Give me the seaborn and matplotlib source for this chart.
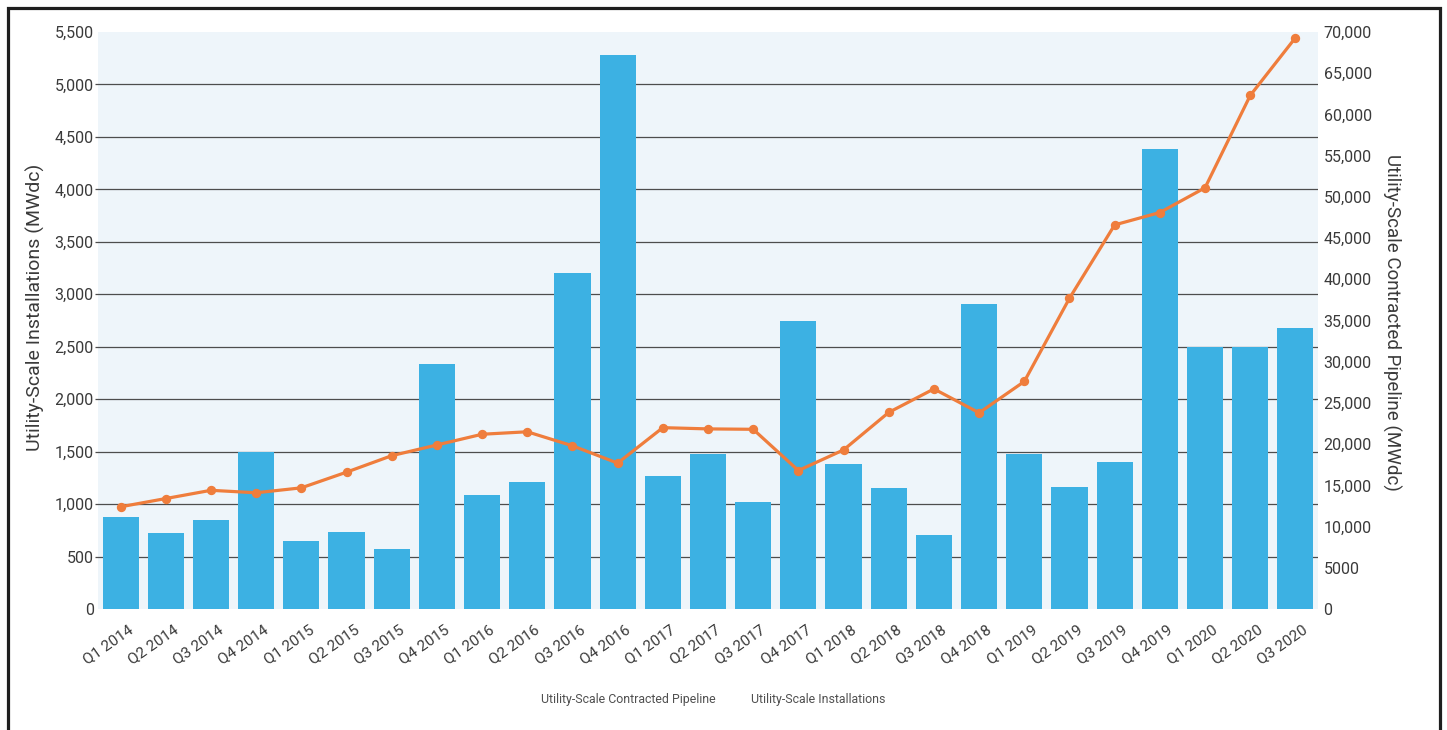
import matplotlib
matplotlib.use("Agg")
import matplotlib.pyplot as plt
from matplotlib.patches import Rectangle
from matplotlib.ticker import FuncFormatter, FixedLocator
from matplotlib.transforms import ScaledTranslation
import seaborn as sns

quarters = [
    "Q1 2014", "Q2 2014", "Q3 2014", "Q4 2014",
    "Q1 2015", "Q2 2015", "Q3 2015", "Q4 2015",
    "Q1 2016", "Q2 2016", "Q3 2016", "Q4 2016",
    "Q1 2017", "Q2 2017", "Q3 2017", "Q4 2017",
    "Q1 2018", "Q2 2018", "Q3 2018", "Q4 2018",
    "Q1 2019", "Q2 2019", "Q3 2019", "Q4 2019",
    "Q1 2020", "Q2 2020", "Q3 2020",
]
installations_mwdc = [
    880, 725, 845, 1495,
    650, 735, 575, 2340,
    1085, 1210, 3205, 5285,
    1270, 1475, 1020, 2750,
    1380, 1155, 710, 2910,
    1475, 1165, 1405, 4385,
    2500, 2500, 2680,
]
pipeline_mwdc = [
    12400, 13400, 14400, 14100,
    14700, 16600, 18600, 19900,
    21200, 21500, 19800, 17700,
    22000, 21850, 21800, 16800,
    19300, 23850, 26700, 23800,
    27600, 37700, 46600, 48100,
    51100, 62300, 69300,
]
left_ticks = list(range(0, 5501, 500))
grid_levels = list(range(500, 5001, 500))
right_ticks = list(range(0, 70001, 5000))

sns.set_theme(style="white")
plt.rcParams["font.family"] = ["Roboto", "DejaVu Sans"]

BAR_BLUE = "#3cb1e3"
LINE_ORANGE = "#ef7d3c"
PLOT_BG = "#eef5fa"
GRID = "#4d4d4d"
TEXT = "#3a3a3a"

fig = plt.figure(figsize=(14.47, 7.30), dpi=100)
fig.patch.set_facecolor("white")
W, H = 1447, 730
ax = fig.add_axes([98 / W, 1 - 609 / H, (1318 - 98) / W, (609 - 32) / H])
ax.set_facecolor(PLOT_BG)

# bars: quarterly installations on the left axis
sns.barplot(x=quarters, y=installations_mwdc, color=BAR_BLUE, saturation=1,
            width=0.8, ax=ax, linewidth=0, zorder=2)
ax.set_ylim(0, 5500)
ax.yaxis.set_major_locator(FixedLocator(left_ticks))
ax.yaxis.set_minor_locator(FixedLocator(grid_levels))
ax.yaxis.remove_overlapping_locs = False
ax.yaxis.set_major_formatter(FuncFormatter(lambda v, p: f"{int(v):,}"))
ax.set_axisbelow(True)
ax.grid(False)
ax.grid(axis="y", which="minor", color=GRID, linewidth=0.9)
ax.tick_params(axis="y", which="major", left=False, length=0, pad=3,
               labelsize=11.5, labelcolor=TEXT)
ax.tick_params(axis="y", which="minor", left=True, length=2.5, width=0.9,
               color=GRID)
ax.set_ylabel("Utility-Scale Installations (MWdc)", fontsize=14,
              color=TEXT)
ax.yaxis.set_label_coords(-0.0435, 0.523)
for s in ax.spines.values():
    s.set_visible(False)

# line: contracted pipeline on the right axis
ax2 = ax.twinx()
sns.pointplot(x=quarters, y=pipeline_mwdc, color=LINE_ORANGE, ax=ax2,
              markers="o", markersize=5, linewidth=2.3)
ax2.set_ylim(0, 70000)
ax2.set_yticks(right_ticks)
ax2.yaxis.set_major_formatter(
    FuncFormatter(lambda v, p: "0" if v == 0 else (f"{int(v)}" if v < 10000 else f"{int(v):,}")))
ax2.tick_params(axis="y", right=False, length=0, pad=4, labelsize=11.5,
                labelcolor=TEXT)
ax2.set_ylabel("Utility-Scale Contracted Pipeline (MWdc)", fontsize=13.5,
               color=TEXT, rotation=270)
ax2.yaxis.set_label_coords(1.068, 0.497)
ax2.grid(False)
for s in ax2.spines.values():
    s.set_visible(False)

ax.set_xlim(-0.5, len(quarters) - 0.5)
ax.set_xlabel("")
ax.tick_params(axis="x", bottom=False, pad=4, labelsize=11, labelcolor=TEXT)
shift = ScaledTranslation(7 / 100, 0, fig.dpi_scale_trans)
for lbl in ax.get_xticklabels():
    lbl.set_rotation(35)
    lbl.set_ha("right")
    lbl.set_rotation_mode("anchor")
    lbl.set_va("top")
    lbl.set_transform(lbl.get_transform() + shift)

# text-only legend below the plot
handles = [ax2.lines[0], ax.patches[0]]
labels = ["Utility-Scale Contracted Pipeline", "Utility-Scale Installations"]
leg = fig.legend(handles, labels, loc="center", ncol=2,
                 bbox_to_anchor=(713 / W, 1 - 699 / H), frameon=False,
                 handlelength=0, handletextpad=0, columnspacing=2.9,
                 fontsize=8.9, labelcolor="#505050")
for h in leg.legend_handles:
    h.set_visible(False)

# outer frame
fig.patches.append(Rectangle((7.5 / W, -0.05), (1439.5 - 7.5) / W,
                             1 - 7.5 / H + 0.05, transform=fig.transFigure,
                             fill=False, edgecolor="#1e1e1e", linewidth=2.3,
                             clip_on=False))

fig.savefig("out.png", dpi=100, facecolor="white")
